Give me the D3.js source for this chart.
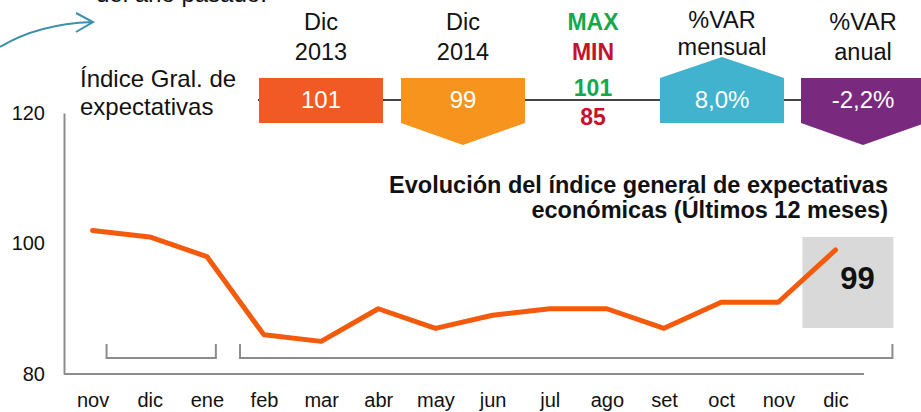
<!DOCTYPE html>
<html>
<head>
<meta charset="utf-8">
<script src="https://d3js.org/d3.v7.min.js"></script>
<style>
  body { margin: 0; background: #fff; }
  text { font-family: "Liberation Sans", Arial, sans-serif; }
</style>
</head>
<body>
<div id="chart"></div>
<script>
// Data
var months = ["nov", "dic", "ene", "feb", "mar", "abr", "may", "jun", "jul", "ago", "set", "oct", "nov", "dic"];
var values = [102, 101, 98, 86, 85, 90, 87, 89, 90, 90, 87, 91, 91, 99];
var yTicks = [80, 100, 120];

// Header cards
var cardTop = ["Dic", "Dic", "MAX", "%VAR", "%VAR"];
var cardBottom = ["2013", "2014", "MIN", "mensual", "anual"];
var cardValues = ["101", "99", "101", "8,0%", "-2,2%"];
var minValue = "85";

var svgWidth = 921;
var svgHeight = 412;

var svg = d3.select("#chart")
  .append("svg")
  .attr("width", svgWidth)
  .attr("height", svgHeight);

// Scales
var xScale = d3.scalePoint()
  .domain(d3.range(months.length))
  .range([64, 864])
  .padding(0.5);
var yScale = d3.scaleLinear()
  .domain([80, 120])
  .range([374, 113]);

// Axes
var bottomAxis = d3.axisBottom(xScale)
  .tickSize(0)
  .tickSizeOuter(0)
  .tickPadding(0)
  .tickFormat(i => months[i]);
var leftAxis = d3.axisLeft(yScale)
  .tickValues(yTicks)
  .tickSize(0)
  .tickSizeOuter(0)
  .tickPadding(19);

var xAxis = svg.append("g")
  .attr("transform", "translate(0, 374)")
  .call(bottomAxis);
xAxis.select(".domain").remove();
xAxis.selectAll("text")
  .attr("y", 33)
  .attr("dy", 0)
  .style("font-size", "20px")
  .attr("fill", "#111");

var yAxis = svg.append("g")
  .attr("transform", "translate(64, 0)")
  .call(leftAxis);
yAxis.select(".domain")
  .attr("stroke", "#8c8c8c")
  .attr("stroke-width", 2);
yAxis.selectAll("text")
  .style("font-size", "20px")
  .attr("fill", "#111");

// horizontal base line
svg.append("line")
  .attr("x1", 64).attr("x2", 864)
  .attr("y1", yScale(80)).attr("y2", yScale(80))
  .attr("stroke", "#8c8c8c")
  .attr("stroke-width", 2);

// Brackets under the line (last year / this year)
function bracket(x1, x2) {
  svg.append("path")
    .attr("d", `M${x1},344V358H${x2}V344`)
    .attr("fill", "none")
    .attr("stroke", "#8c8c8c")
    .attr("stroke-width", 2);
}
bracket(xScale(0) + 14, xScale(2) + 9);
bracket(xScale(3) - 24, xScale(13) + 57);

// Highlight box for the last value
var lastX = xScale(months.length - 1);
svg.append("rect")
  .attr("x", lastX - 33)
  .attr("y", 237)
  .attr("width", 91)
  .attr("height", 91)
  .attr("fill", "#d9d9d9");
svg.append("text")
  .attr("x", lastX + 22)
  .attr("y", 289)
  .attr("text-anchor", "middle")
  .style("font-size", "31px")
  .style("font-weight", "bold")
  .attr("fill", "#111")
  .text(values[values.length - 1]);

// The line
var line = d3.line()
  .x((d, i) => xScale(i))
  .y(d => yScale(d));
svg.append("path")
  .datum(values)
  .attr("d", line)
  .attr("fill", "none")
  .attr("stroke", "#f35a0c")
  .attr("stroke-width", 5)
  .attr("stroke-linejoin", "round")
  .attr("stroke-linecap", "round");

// Title
var title = svg.append("text")
  .attr("text-anchor", "end")
  .style("font-size", "23.5px")
  .style("font-weight", "bold")
  .attr("fill", "#111");
title.append("tspan").attr("x", 888).attr("y", 193)
  .text("Evolución del índice general de expectativas");
title.append("tspan").attr("x", 888).attr("y", 218)
  .text("económicas (Últimos 12 meses)");

// Left label
var label = svg.append("text")
  .style("font-size", "24px")
  .attr("fill", "#111");
label.append("tspan").attr("x", 80).attr("y", 87).text("Índice Gral. de");
label.append("tspan").attr("x", 80).attr("y", 115).text("expectativas");

// Clipped text from the page above and the arrow
svg.append("text")
  .attr("x", 96)
  .attr("y", 2)
  .style("font-size", "24px")
  .attr("fill", "#111")
  .text("del año pasado.");
svg.append("path")
  .attr("d", "M0,47Q38,24 92,22M76,13L93,22L76,32")
  .attr("fill", "none")
  .attr("stroke", "#3d8faa")
  .attr("stroke-width", 2);

// Header: connector line and cards
svg.append("line")
  .attr("x1", 258).attr("x2", 921)
  .attr("y1", 100).attr("y2", 100)
  .attr("stroke", "#444")
  .attr("stroke-width", 2);

var centers = [321, 463, 593, 722, 863];
var half = 62;
var shapes = [
  c => `M${c - half},78H${c + half}V123H${c - half}Z`,
  c => `M${c - half},78H${c + half}V123L${c},145L${c - half},123Z`,
  null,
  c => `M${c - half},78L${c},57L${c + half},78V123H${c - half}Z`,
  c => `M${c - half},78H${c + half}V123L${c},145L${c - half},123Z`
];
var fills = ["#f15a24", "#f7941d", null, "#41b3ce", "#7a2a7e"];

centers.forEach(function(c, i) {
  var topY = i === 3 ? 28 : 30;
  var botY = i === 3 ? 55 : 60;
  var isMax = i === 2;
  svg.append("text")
    .attr("x", c).attr("y", topY)
    .attr("text-anchor", "middle")
    .style("font-size", isMax ? "23px" : "23.5px")
    .style("font-weight", isMax ? "bold" : "normal")
    .attr("fill", isMax ? "#14a84b" : "#111")
    .text(cardTop[i]);
  svg.append("text")
    .attr("x", c).attr("y", botY)
    .attr("text-anchor", "middle")
    .style("font-size", isMax ? "23px" : "23.5px")
    .style("font-weight", isMax ? "bold" : "normal")
    .attr("fill", isMax ? "#c4122f" : "#111")
    .text(cardBottom[i]);

  if (isMax) {
    svg.append("text")
      .attr("x", c).attr("y", 96)
      .attr("text-anchor", "middle")
      .style("font-size", "23px")
      .style("font-weight", "bold")
      .attr("fill", "#14a84b")
      .text(cardValues[i]);
    svg.append("text")
      .attr("x", c).attr("y", 125)
      .attr("text-anchor", "middle")
      .style("font-size", "23px")
      .style("font-weight", "bold")
      .attr("fill", "#c4122f")
      .text(minValue);
  } else {
    svg.append("path")
      .attr("d", shapes[i](c))
      .attr("fill", fills[i]);
    svg.append("text")
      .attr("x", c).attr("y", 108)
      .attr("text-anchor", "middle")
      .style("font-size", "24px")
      .attr("fill", "#fff")
      .text(cardValues[i]);
  }
});
</script>
</body>
</html>
